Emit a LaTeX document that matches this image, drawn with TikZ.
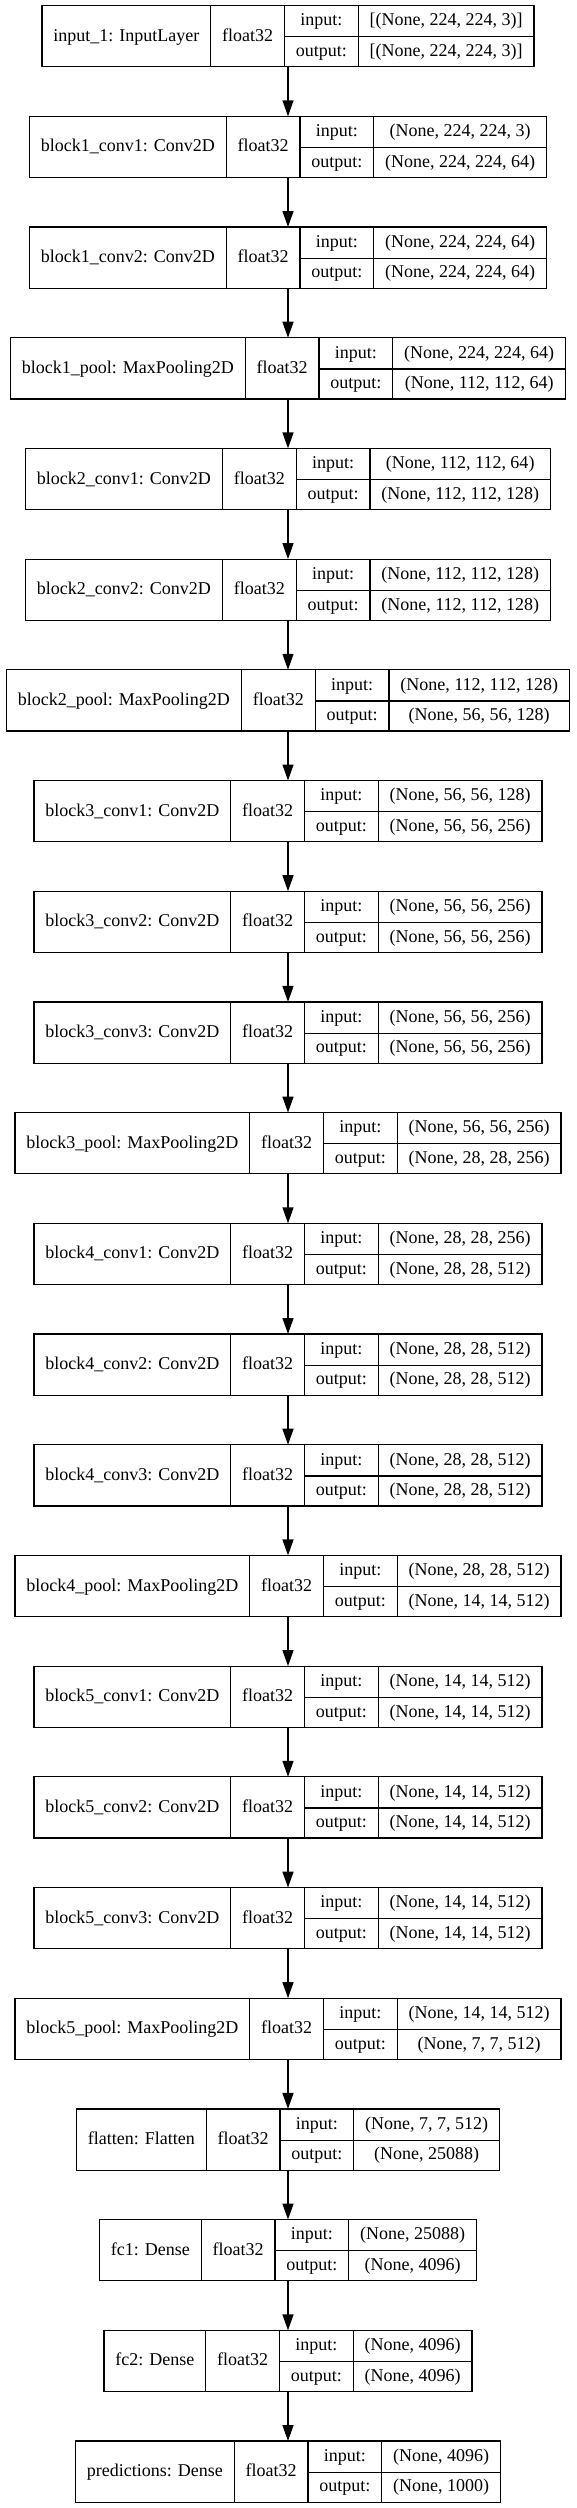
\documentclass[tikz,border=0pt]{standalone}
\usepackage{fontspec}
\setmainfont{Liberation Serif}
\usepackage{xcolor}
\usepackage{tikz}
\usetikzlibrary{positioning,arrows.meta}
\newcommand{\lfont}{\fontsize{18pt}{21pt}\selectfont}
\newcommand{\rs}{\rule[-10.3pt]{0pt}{30.6pt}}
\setlength{\tabcolsep}{11.4pt}
\setlength{\arrayrulewidth}{1.2pt}
\newcommand{\layertab}[3]{%
  \begin{tabular}{c|c|c|c}
    \raisebox{-15.3pt}[0pt][0pt]{#1} & \raisebox{-15.3pt}[0pt][0pt]{float32} & input:\rs & #2\\ \cline{3-4}
    & & output:\rs & #3
  \end{tabular}}
\tikzset{
  layerbox/.style={draw=black, line width=1.2pt, inner sep=0pt, outer sep=0pt, font=\lfont},
  flow/.style={draw=black, line width=1.4pt, -{Triangle[length=16pt,width=11pt]}}
}

\begin{document}
\begin{tikzpicture}[x=1pt,y=1pt]
  \useasboundingbox (0,0) rectangle (576,-2508);
  \foreach \lbl/\vin/\vout [count=\i from 0] in {
      {input\_1: InputLayer}/{[(None, 224, 224, 3)]}/{[(None, 224, 224, 3)]},
      {block1\_conv1: Conv2D}/{(None, 224, 224, 3)}/{(None, 224, 224, 64)},
      {block1\_conv2: Conv2D}/{(None, 224, 224, 64)}/{(None, 224, 224, 64)},
      {block1\_pool: MaxPooling2D}/{(None, 224, 224, 64)}/{(None, 112, 112, 64)},
      {block2\_conv1: Conv2D}/{(None, 112, 112, 64)}/{(None, 112, 112, 128)},
      {block2\_conv2: Conv2D}/{(None, 112, 112, 128)}/{(None, 112, 112, 128)},
      {block2\_pool: MaxPooling2D}/{(None, 112, 112, 128)}/{(None, 56, 56, 128)},
      {block3\_conv1: Conv2D}/{(None, 56, 56, 128)}/{(None, 56, 56, 256)},
      {block3\_conv2: Conv2D}/{(None, 56, 56, 256)}/{(None, 56, 56, 256)},
      {block3\_conv3: Conv2D}/{(None, 56, 56, 256)}/{(None, 56, 56, 256)},
      {block3\_pool: MaxPooling2D}/{(None, 56, 56, 256)}/{(None, 28, 28, 256)},
      {block4\_conv1: Conv2D}/{(None, 28, 28, 256)}/{(None, 28, 28, 512)},
      {block4\_conv2: Conv2D}/{(None, 28, 28, 512)}/{(None, 28, 28, 512)},
      {block4\_conv3: Conv2D}/{(None, 28, 28, 512)}/{(None, 28, 28, 512)},
      {block4\_pool: MaxPooling2D}/{(None, 28, 28, 512)}/{(None, 14, 14, 512)},
      {block5\_conv1: Conv2D}/{(None, 14, 14, 512)}/{(None, 14, 14, 512)},
      {block5\_conv2: Conv2D}/{(None, 14, 14, 512)}/{(None, 14, 14, 512)},
      {block5\_conv3: Conv2D}/{(None, 14, 14, 512)}/{(None, 14, 14, 512)},
      {block5\_pool: MaxPooling2D}/{(None, 14, 14, 512)}/{(None, 7, 7, 512)},
      {flatten: Flatten}/{(None, 7, 7, 512)}/{(None, 25088)},
      {fc1: Dense}/{(None, 25088)}/{(None, 4096)},
      {fc2: Dense}/{(None, 4096)}/{(None, 4096)},
      {predictions: Dense}/{(None, 4096)}/{(None, 1000)}}{
    \node[layerbox] (l\i) at (288,-36.2-110.7*\i) {\layertab{\lbl}{\vin}{\vout}};
    \ifnum\i>0
      \pgfmathtruncatemacro\j{\i-1}
      \draw[flow] (l\j.south) -- (l\i.north);
    \fi
  }
\end{tikzpicture}
\end{document}
